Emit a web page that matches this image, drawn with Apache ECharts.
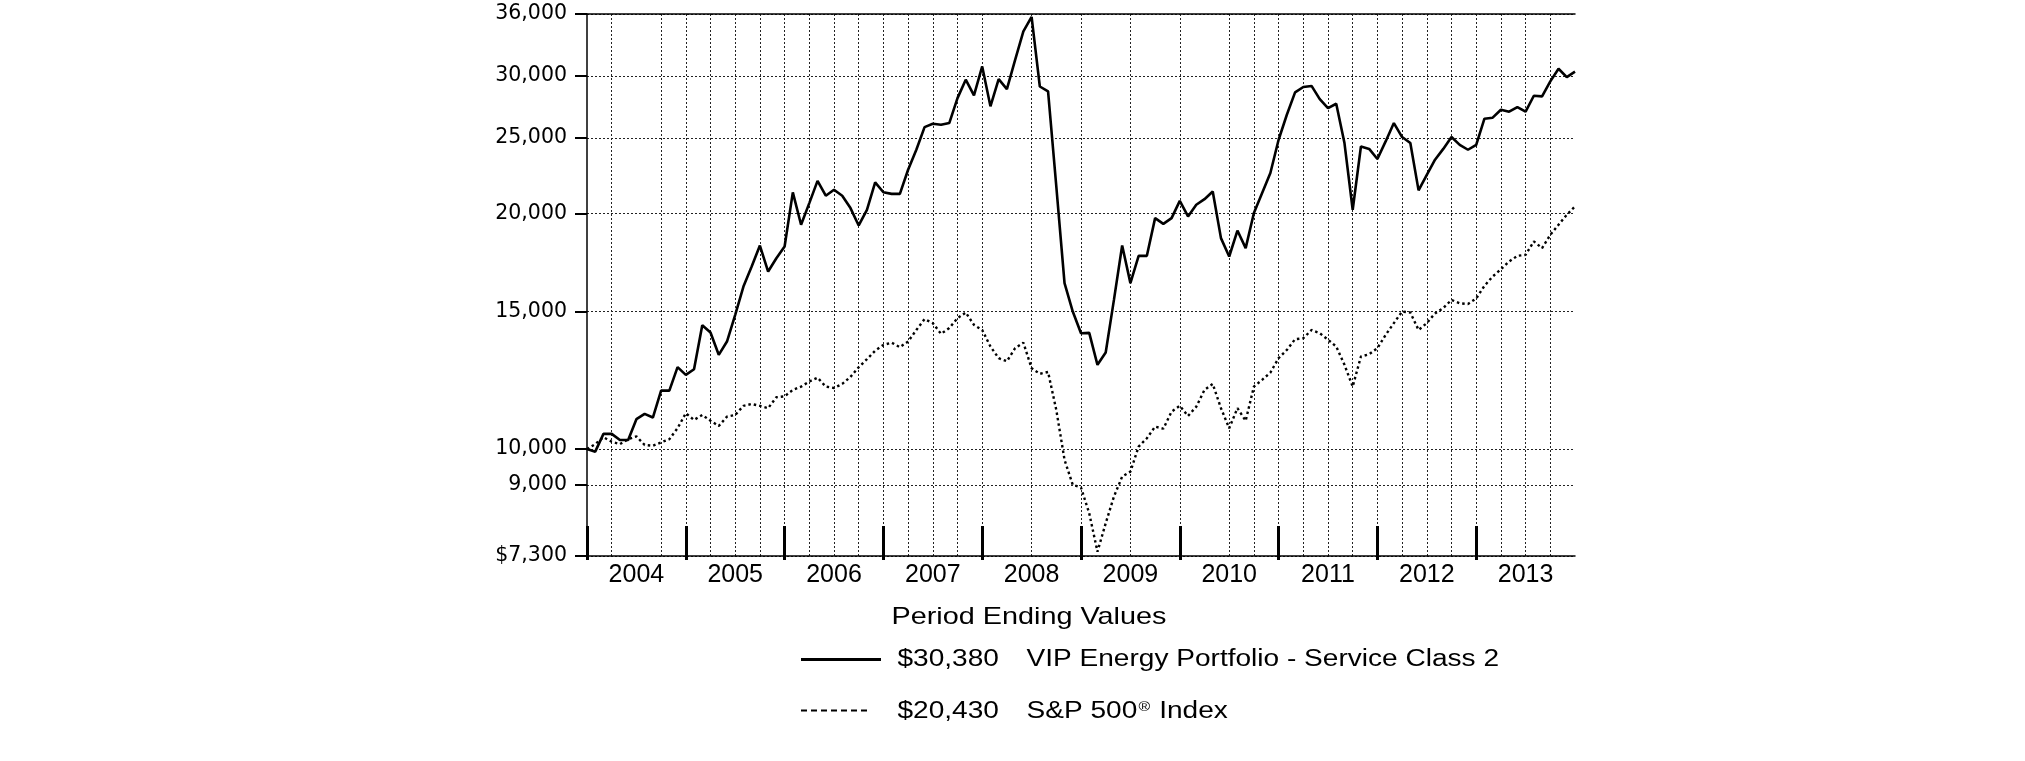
<!DOCTYPE html>
<html><head><meta charset="utf-8">
<script src="https://cdn.jsdelivr.net/npm/echarts@6/dist/echarts.min.js"></script>
<style>html,body{margin:0;padding:0;background:#fff}#c{width:2025px;height:761px}</style>
</head><body><div id="c"></div>
<script>
// ---- data ----
const startMonth = '2003-12';
const years = [2004, 2005, 2006, 2007, 2008, 2009, 2010, 2011, 2012, 2013];
const energyValues = [
  10000, 9925, 10457, 10457, 10273, 10273, 10920, 11092, 10973, 11880,
  11880, 12728, 12444, 12652, 14403, 14093, 13199, 13726, 14847, 16135,
  17116, 18207, 16866, 17542, 18155, 21290, 19357, 20632, 22029, 21086,
  21458, 21086, 20331, 19317, 20230, 21924, 21300, 21200, 21200, 22760,
  24138, 25804, 26061, 25980, 26115, 28100, 29670, 28330, 30850, 27430,
  29720, 28860, 31460, 34200, 35690, 29080, 28660, 21670, 16300, 14993,
  14067, 14080, 12816, 13287, 15515, 18207, 16300, 17665, 17665, 19740,
  19410, 19740, 20770, 19840, 20530, 20870, 21350, 18610, 17630, 19030,
  18070, 20040, 21250, 22540, 24860, 26760, 28580, 29040, 29130, 28020,
  27290, 27640, 24620, 20230, 24370, 24200, 23490, 24740, 26115, 25060,
  24620, 21420, 22420, 23440, 24200, 25060, 24490, 24140, 24490, 26450,
  26530, 27160, 27000, 27370, 27000, 28300, 28250, 29520, 30640, 29900,
  30380
];
const sp500Values = [
  10000, 10150, 10356, 10220, 10150, 10295, 10380, 10123, 10100, 10200,
  10295, 10634, 11115, 10896, 11058, 10870, 10705, 11002, 11058, 11358,
  11420, 11358, 11280, 11650, 11680, 11905, 12020, 12200, 12340, 12020,
  11970, 12115, 12370, 12728, 13030, 13360, 13590, 13680, 13500, 13726,
  14200, 14660, 14490, 14040, 14280, 14700, 14950, 14415, 14200, 13525,
  13070, 12950, 13460, 13680, 12690, 12480, 12550, 11220, 9690, 9000,
  8930, 8279, 7393, 8039, 8696, 9222, 9358, 10074, 10325, 10684,
  10620, 11166, 11358, 11025, 11330, 11905, 12115, 11280, 10634, 11280,
  10870, 12020, 12262, 12527, 13070, 13390, 13820, 13860, 14200, 14067,
  13800, 13525, 12816, 12020, 13134, 13220, 13460, 13996, 14490, 14993,
  14950, 14200, 14490, 14910, 15150, 15515, 15360, 15330, 15580, 16170,
  16620, 16980, 17370, 17665, 17720, 18430, 18070, 18790, 19357, 19930,
  20430
];
const yTickValues = [7300, 9000, 10000, 15000, 20000, 25000, 30000, 36000];
const hiddenQuarterLines = [6, 51, 57, 63, 69, 75];
const seriesNames = ['VIP Energy Portfolio - Service Class 2', 'S&P 500\u00AE Index'];
const endingValues = ['$30,380', '$20,430'];
const legendTitle = 'Period Ending Values';

// ---- build categories ----
const months = [startMonth];
years.forEach(y => { for (let m = 1; m <= 12; m++) months.push(y + '-' + String(m).padStart(2, '0')); });
const lastIdx = months.length - 1;

const yearTick = (i) => i % 12 === 0 && i < lastIdx;
const fmtY = (v) => {
  const s = Math.round(v).toLocaleString('en-US');
  return v === yTickValues[0] ? '$' + s : s;
};

const chart = echarts.init(document.getElementById('c'), null, { renderer: 'canvas' });
const txt = (x, y, text, size, sx, rich) => ({
  type: 'text', x: x, y: y, scaleX: sx, scaleY: 1,
  style: { text: text, x: 0, y: 0, fill: '#000', fontFamily: 'Liberation Sans', fontSize: size,
           align: 'left', verticalAlign: 'middle', rich: rich }
});

chart.setOption({
  animation: false,
  backgroundColor: '#fff',
  grid: { left: 587, top: 14, width: 988, height: 542, containLabel: false },
  xAxis: [
    {
      type: 'category', data: months, boundaryGap: false, position: 'bottom',
      axisLine: { show: true, lineStyle: { color: '#000', width: 1.5 } },
      axisTick: { show: true, inside: true, length: 30, interval: (i) => yearTick(i),
                  lineStyle: { color: '#000', width: 3 } },
      axisLabel: { show: true, interval: (i) => i % 12 === 6, formatter: (v) => v.slice(0, 4),
                   fontFamily: 'Liberation Sans', fontSize: 25, color: '#000', margin: 7 },
      splitLine: { show: true,
                   interval: (i) => i % 3 === 0 && i > 0 && i < lastIdx && hiddenQuarterLines.indexOf(i) < 0,
                   lineStyle: { color: '#222', width: 1, type: [2, 2] } }
    },
    {
      type: 'category', data: months, boundaryGap: false, position: 'top',
      axisLine: { show: true, lineStyle: { color: '#000', width: 1.5 } },
      axisTick: { show: false }, axisLabel: { show: false }, splitLine: { show: false }
    },
    {
      type: 'category', data: months, boundaryGap: false, position: 'bottom',
      axisLine: { show: false },
      axisTick: { show: true, inside: false, length: 4, interval: (i) => yearTick(i),
                  lineStyle: { color: '#000', width: 3 } },
      axisLabel: { show: false }, splitLine: { show: false }
    }
  ],
  yAxis: {
    type: 'log', logBase: 10, min: 7300, max: 36000,
    axisLine: { show: true, lineStyle: { color: '#000', width: 1.5 } },
    axisTick: { show: true, length: 12, customValues: yTickValues, lineStyle: { color: '#000', width: 2 } },
    axisLabel: { show: true, customValues: yTickValues, formatter: fmtY, margin: 20,
                 fontFamily: 'DejaVu Sans', fontSize: 20.5, color: '#000' },
    splitLine: { show: true, lineStyle: { color: '#222', width: 1, type: [2, 2] } },
    minorTick: { show: false }
  },
  series: [
    { name: seriesNames[1], type: 'line', data: sp500Values, symbol: 'none', showSymbol: false,
      lineStyle: { color: '#000', width: 2.4, type: [2.5, 3] }, z: 3 },
    { name: seriesNames[0], type: 'line', data: energyValues, symbol: 'none', showSymbol: false,
      lineStyle: { color: '#000', width: 2.6 }, z: 4 }
  ],
  graphic: [
    txt(891.5, 617, legendTitle, 24, 1.2),
    { type: 'line', shape: { x1: 801, y1: 659.5, x2: 881, y2: 659.5 }, style: { stroke: '#000', lineWidth: 3 } },
    txt(897.5, 660, endingValues[0], 23, 1.22),
    txt(1026.5, 660, seriesNames[0], 23, 1.22),
    { type: 'line', shape: { x1: 801, y1: 710.5, x2: 871, y2: 710.5 }, style: { stroke: '#000', lineWidth: 2, lineDash: [6, 4] } },
    txt(897.5, 712, endingValues[1], 23, 1.22),
    txt(1026.5, 712, '{a|S&P 500}{s|\u00AE}{a| Index}', 23, 1.22, {
      a: { fontFamily: 'Liberation Sans', fontSize: 23, fill: '#000' },
      s: { fontFamily: 'Liberation Sans', fontSize: 13, fill: '#000', verticalAlign: 'top', padding: [0, 1, 10, 1] }
    })
  ]
});
</script>
</body></html>
